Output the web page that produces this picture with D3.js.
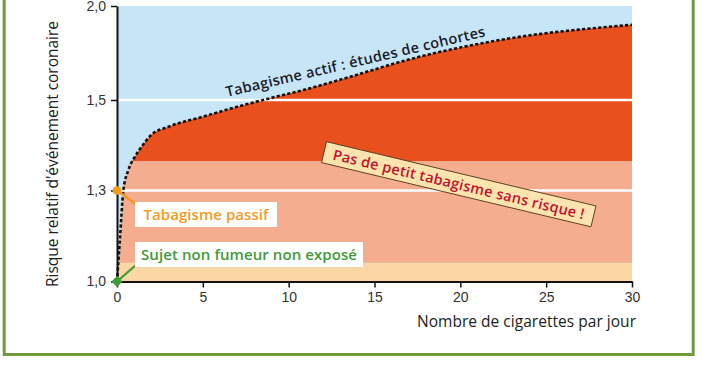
<!DOCTYPE html>
<html>
  <head>
    <meta charset="utf-8">
    <title>Risque relatif d'événement coronaire</title>
    <style>
      body { margin: 0; background: #fff; }
      svg { display: block; font-family: "Open Sans", sans-serif; }
      .tick text { font-size: 14px; fill: #333; }
    </style>
  </head>
  <body>
    <svg width="702" height="370"></svg>
    <script src="https://d3js.org/d3.v7.min.js"></script>
    <script>
      // curve: cigarettes per day -> relative risk
      const cigs = [0, 0.17, 0.37, 0.66, 1.05, 1.44, 2.0, 3.0, 5.0, 7.0, 8.9, 10.85, 13.6, 16.9, 22.3, 30];
      const risk = [1.0, 1.14, 1.30, 1.345, 1.375, 1.397, 1.423, 1.441, 1.463, 1.485, 1.509, 1.553, 1.624, 1.713, 1.819, 1.90];

      // coloured bands below the curve
      const bandLow = [1.0, 1.062, 1.365];
      const bandHigh = [1.062, 1.365, 2.0];
      const bandColor = ["#fbd7a3", "#f4ae8f", "#e8501e"];

      const xTicks = [0, 5, 10, 15, 20, 25, 30];
      const yTicks = [1.0, 1.3, 1.5, 2.0];
      const gridValues = [1.3, 1.5];

      const svg = d3.select("svg");

      // green frame
      svg.append("rect")
        .attr("x", 4.2).attr("y", -10)
        .attr("width", 689).attr("height", 364.5)
        .attr("fill", "none")
        .attr("stroke", "#6f9b3d")
        .attr("stroke-width", 3);

      const x = d3.scaleLinear().domain([0, 30]).range([117, 632]);
      // the y axis of the original is not linear, ticks are evenly spaced
      const y = d3.scaleLinear().domain([1.0, 1.3, 1.5, 2.0]).range([281.5, 190.5, 100, 6]);

      const pts = cigs.map((c, i) => [c, risk[i]]);

      // blue background
      svg.append("rect")
        .attr("x", x(0)).attr("y", y(2.0))
        .attr("width", x(30) - x(0)).attr("height", y(1.0) - y(2.0))
        .attr("fill", "#c6e5f6");

      const area = d3.area()
        .x(d => x(d[0]))
        .y0(y(1.0))
        .y1(d => y(d[1]))
        .curve(d3.curveMonotoneX);

      svg.append("clipPath").attr("id", "under")
        .append("path").attr("d", area(pts));

      svg.append("g").attr("clip-path", "url(#under)")
        .selectAll("rect")
        .data(bandLow)
        .join("rect")
        .attr("x", x(0))
        .attr("width", x(30) - x(0))
        .attr("y", (d, i) => y(bandHigh[i]))
        .attr("height", (d, i) => y(d) - y(bandHigh[i]))
        .attr("fill", (d, i) => bandColor[i]);

      // white grid lines
      svg.selectAll(".grid")
        .data(gridValues)
        .join("line")
        .attr("class", "grid")
        .attr("x1", x(0)).attr("x2", x(30))
        .attr("y1", d => y(d)).attr("y2", d => y(d))
        .attr("stroke", "#fff")
        .attr("stroke-width", 2.5);

      // dotted curve
      const line = d3.line()
        .x(d => x(d[0]))
        .y(d => y(d[1]))
        .curve(d3.curveMonotoneX);

      svg.append("path")
        .attr("d", line(pts))
        .attr("fill", "none")
        .attr("stroke", "#111")
        .attr("stroke-width", 2.6)
        .attr("stroke-dasharray", "3.2,2.2");

      // axes
      const xAxis = svg.append("g")
        .attr("transform", `translate(0,${y(1.0)})`)
        .call(d3.axisBottom(x).tickValues(xTicks).tickSize(6).tickSizeOuter(0).tickPadding(5));
      xAxis.select(".domain").attr("stroke", "#111").attr("stroke-width", 2);
      xAxis.selectAll(".tick line").attr("stroke", "#111").attr("stroke-width", 1.5);

      const yAxis = svg.append("g")
        .attr("transform", `translate(${x(0)},0)`)
        .call(d3.axisLeft(y).tickValues(yTicks).tickSize(6).tickSizeOuter(0).tickPadding(5)
          .tickFormat(d => d3.format(".1f")(d).replace(".", ",")));
      yAxis.select(".domain").attr("stroke", "#111").attr("stroke-width", 2);
      yAxis.selectAll(".tick line").attr("stroke", "#111").attr("stroke-width", 1.5);

      // axis titles
      svg.append("text")
        .attr("x", 636).attr("y", 327)
        .attr("text-anchor", "end")
        .attr("font-size", 15.5)
        .attr("fill", "#222")
        .attr("textLength", 219)
        .text("Nombre de cigarettes par jour");

      svg.append("text")
        .attr("transform", "translate(58,154) rotate(-90)")
        .attr("text-anchor", "middle")
        .attr("font-size", 15.5)
        .attr("fill", "#222")
        .attr("textLength", 266)
        .text("Risque relatif d'événement coronaire");

      // label along the curve
      svg.append("text")
        .attr("transform", "translate(227,97) rotate(-13.2)")
        .attr("font-size", 14.5)
        .attr("font-weight", 600)
        .attr("fill", "#1b1b2a")
        .attr("textLength", 266)
        .text("Tabagisme actif : études de cohortes");

      // annotated points at x = 0
      function marker(val, color, boxY, boxW, label, textW, symbol) {
        svg.append("line")
          .attr("x1", x(0)).attr("y1", y(val))
          .attr("x2", 136).attr("y2", val > 1 ? boxY + 2 : boxY + 23)
          .attr("stroke", color).attr("stroke-width", 2.2);
        svg.append("rect")
          .attr("x", 135).attr("y", boxY)
          .attr("width", boxW).attr("height", 25)
          .attr("fill", "#fff");
        svg.append("text")
          .attr("x", 135 + boxW / 2).attr("y", boxY + 18)
          .attr("text-anchor", "middle")
          .attr("font-size", 15)
          .attr("font-weight", 600)
          .attr("fill", color)
          .attr("textLength", textW)
          .text(label);
        svg.append("path")
          .attr("transform", `translate(${x(0)},${y(val)}) rotate(${symbol === d3.symbolSquare ? 45 : 0})`)
          .attr("d", d3.symbol(symbol, 60)())
          .attr("fill", color);
      }
      marker(1.3, "#f39a1f", 202, 142, "Tabagisme passif", 125, d3.symbolCircle);
      marker(1.0, "#3f9b38", 242, 228, "Sujet non fumeur non exposé", 216, d3.symbolSquare);

      // warning ribbon
      const ribbon = svg.append("g").attr("transform", "translate(326.5,141.7) rotate(13.4)");
      ribbon.append("rect")
        .attr("width", 277).attr("height", 21.5)
        .attr("fill", "#fde3ad")
        .attr("stroke", "#5a3e22")
        .attr("stroke-width", 0.9);
      ribbon.append("text")
        .attr("x", 138.5).attr("y", 16)
        .attr("text-anchor", "middle")
        .attr("font-size", 14.5)
        .attr("font-weight", 600)
        .attr("fill", "#c3122d")
        .attr("textLength", 258)
        .text("Pas de petit tabagisme sans risque !");
    </script>
  </body>
</html>
